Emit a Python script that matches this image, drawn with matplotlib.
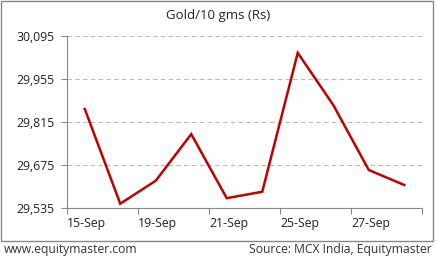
import matplotlib.pyplot as plt
from matplotlib.patches import Rectangle
from matplotlib.ticker import FuncFormatter

plt.rcParams['font.family'] = ['Open Sans', 'DejaVu Sans']

# data
dates = ['15-Sep', '18-Sep', '19-Sep', '20-Sep', '21-Sep',
         '22-Sep', '25-Sep', '26-Sep', '27-Sep', '28-Sep']
prices = [29857, 29548, 29623, 29775, 29566, 29587, 30040, 29870, 29658, 29609]
yticks = [29535, 29675, 29815, 29955, 30095]

fig = plt.figure(figsize=(4.36, 2.62), dpi=100)
ax = fig.add_axes([67 / 436, 1 - 207.7 / 262, (422 - 67) / 436, (207.7 - 36) / 262])

x = list(range(len(dates)))
ax.plot(x, prices, color='#C00000', lw=1.8, solid_joinstyle='miter')

ax.set_xlim(-0.5, len(dates) - 0.5)
ax.set_ylim(yticks[0], yticks[-1])
ax.set_yticks(yticks)
ax.yaxis.set_major_formatter(FuncFormatter(lambda v, p: f'{int(v):,}'))

# category boundaries as ticks, labels on every other boundary
bounds = [i - 0.5 for i in range(0, len(dates) + 1, 2)]
ax.set_xticks(bounds)
ax.set_xticklabels([dates[i] for i in range(0, len(dates), 2)] + [''], ha='left')

ax.grid(axis='y', color='#bbbbbb', ls=(0, (4, 3)), lw=0.8)
for s in ['top', 'right']:
    ax.spines[s].set_visible(False)
for s in ['left', 'bottom']:
    ax.spines[s].set_color('#888888')
ax.tick_params(axis='x', length=4, color='#888888', labelsize=8.8, pad=3,
               labelcolor='#222222')
ax.tick_params(axis='y', length=4, color='#888888', labelsize=8.8, pad=5,
               labelcolor='#222222')

fig.text(218 / 436, 1 - 16 / 262, 'Gold/10 gms (Rs)', fontsize=9.5,
         ha='center', va='center', color='#222222')

fig.patches.append(Rectangle((1 / 436, 1 - 241 / 262), 432 / 436, 240 / 262,
                             transform=fig.transFigure, fill=False,
                             edgecolor='#888888', lw=1))
fig.text(4 / 436, 1 - 250 / 262, 'www.equitymaster.com', fontsize=8.7,
         va='center', color='#333333')
fig.text(432 / 436, 1 - 250 / 262, 'Source: MCX India, Equitymaster',
         fontsize=8.7, va='center', ha='right', color='#333333')

fig.savefig('out.png', dpi=100)
